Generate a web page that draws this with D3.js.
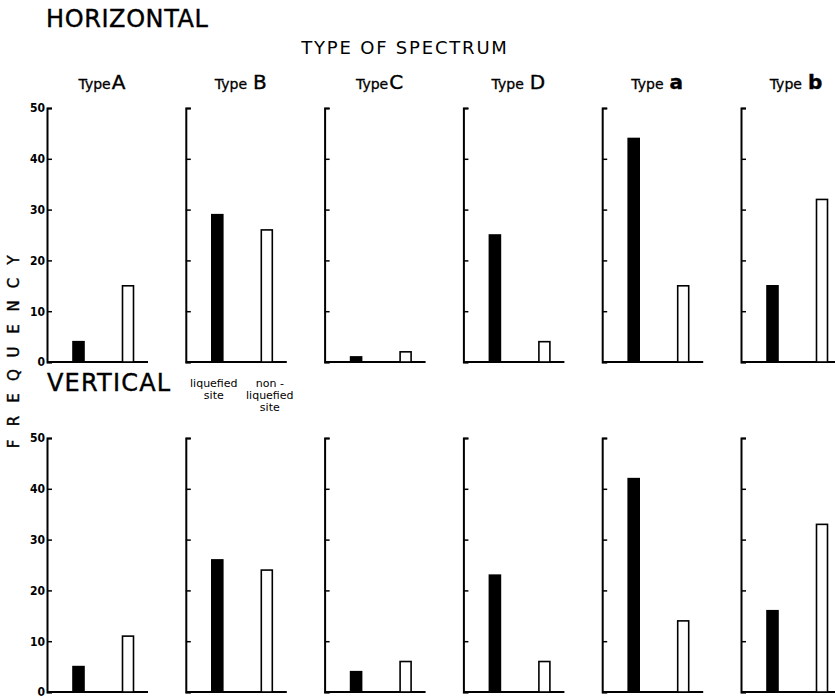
<!DOCTYPE html>
<html>
<head>
<meta charset="utf-8">
<script src="https://cdn.jsdelivr.net/npm/d3@7"></script>
<style>
  body { margin: 0; background: #fff; }
  svg { display: block; }
  text { fill: #000; }
</style>
</head>
<body>
<svg id="chart" width="835" height="698"></svg>
<script>
// ---- data ----
const types = ["A", "B", "C", "D", "a", "b"];
const sites = ["liquefied site", "non-liquefied site"];
const horizontalLiquefied = [4, 29, 1, 25, 44, 15];
const horizontalNonLiquefied = [15, 26, 2, 4, 15, 32];
const verticalLiquefied = [5, 26, 4, 23, 42, 16];
const verticalNonLiquefied = [11, 24, 6, 6, 14, 33];
const yTicks = [0, 10, 20, 30, 40, 50];
const rowNames = ["HORIZONTAL", "VERTICAL"];

const rows = [
  { name: rowNames[0], liq: horizontalLiquefied, non: horizontalNonLiquefied, y0: 362, y50: 108 },
  { name: rowNames[1], liq: verticalLiquefied, non: verticalNonLiquefied, y0: 692, y50: 438 }
];

const svg = d3.select("#chart");

// panel positions
const panelX = d3.scaleBand().domain(types).range([47, 47 + 6 * 138.8]).paddingInner(0).paddingOuter(0);
// bar positions within panel
const barX = d3.scaleBand().domain(sites).range([6, 106]);
const barW = 11;

// titles
svg.append("text").attr("x", 46).attr("y", 27)
  .style("font-family", "DejaVu Sans").style("font-size", "24px").style("letter-spacing", "0.6px")
  .style("stroke", "#000").style("stroke-width", "0.4px")
  .text("HORIZONTAL");
svg.append("text").attr("x", 47).attr("y", 391)
  .style("font-family", "DejaVu Sans").style("font-size", "24px").style("letter-spacing", "1.2px")
  .style("stroke", "#000").style("stroke-width", "0.4px")
  .text("VERTICAL");
svg.append("text").attr("x", 405).attr("y", 54).attr("text-anchor", "middle")
  .style("font-family", "DejaVu Sans").style("font-size", "18px").style("letter-spacing", "1.8px")
  .text("TYPE OF SPECTRUM");

// Type labels
types.forEach(t => {
  const cx = panelX(t) + 55;
  const tx = svg.append("text").attr("x", cx).attr("y", 89).attr("text-anchor", "middle")
    .style("font-family", "DejaVu Sans");
  tx.append("tspan").style("font-size", "14px").style("stroke", "#000").style("stroke-width", "0.3px").text("Type");
  tx.append("tspan").attr("dx", t === "A" || t === "C" ? 1 : 6)
    .style("font-size", "20px")
    .style("font-weight", (t === "a" || t === "b") ? "bold" : "normal")
    .style("stroke", "#000").style("stroke-width", "0.4px")
    .text(t);
});

// FREQUENCY vertical label (reads bottom to top)
const freq = "FREQUENCY".split("");
const fy = d3.scalePoint().domain(d3.range(freq.length)).range([444, 260]);
svg.append("g").selectAll("text").data(freq).join("text")
  .attr("transform", (d, i) => `translate(19,${fy(i)}) rotate(-90)`)
  .attr("text-anchor", "middle")
  .style("font-family", "DejaVu Sans").style("font-size", "15px")
  .style("stroke", "#000").style("stroke-width", "0.4px")
  .text(d => d);

rows.forEach((row, ri) => {
  const y = d3.scaleLinear().domain([0, 50]).range([row.y0, row.y50]);
  types.forEach((t, i) => {
    const g = svg.append("g").attr("transform", `translate(${panelX(t)},0)`);
    const axis = d3.axisLeft(y).tickValues(yTicks).tickSizeInner(-5).tickSizeOuter(-5).tickPadding(2)
      .tickFormat(i === 0 ? d3.format("d") : () => "");
    const ag = g.append("g").call(axis);
    ag.select(".domain").attr("stroke-width", 2);
    ag.selectAll(".tick line").attr("stroke-width", 1.5);
    ag.selectAll("text").style("font-family", "DejaVu Sans Condensed").style("font-weight", "bold")
      .style("font-size", "12px").attr("fill", "#000");

    // baseline
    g.append("line").attr("x1", 0).attr("x2", 101).attr("y1", y(0)).attr("y2", y(0))
      .attr("stroke", "#000").attr("stroke-width", 2);

    const vals = [row.liq[i], row.non[i]];
    g.selectAll("rect.bar").data(sites.map((s, k) => ({ site: s, v: vals[k] }))).join("rect")
      .attr("class", "bar")
      .attr("x", d => barX(d.site) + barX.bandwidth() / 2 - barW / 2 + (d.site === sites[0] ? 0.5 : 0))
      .attr("y", d => y(d.v))
      .attr("width", barW)
      .attr("height", d => y(0) - y(d.v))
      .attr("fill", d => d.site === sites[0] ? "#000" : "#fff")
      .attr("stroke", "#000").attr("stroke-width", 1.6);
  });
});

// site labels under Type B (top row)
const bx = panelX("B");
const lab = svg.append("g").style("font-family", "DejaVu Sans").style("font-size", "11px").attr("text-anchor", "middle");
const liqLines = ["liquefied", "site"];
const nonLines = ["non -", "liquefied", "site"];
lab.selectAll("text.l").data(liqLines).join("text").attr("class", "l")
  .attr("x", bx + barX(sites[0]) + barX.bandwidth() / 2 - 3).attr("y", (d, k) => 387 + k * 12).text(d => d);
lab.selectAll("text.n").data(nonLines).join("text").attr("class", "n")
  .attr("x", bx + barX(sites[1]) + barX.bandwidth() / 2 + 3).attr("y", (d, k) => 387 + k * 12).text(d => d);
</script>
</body>
</html>
